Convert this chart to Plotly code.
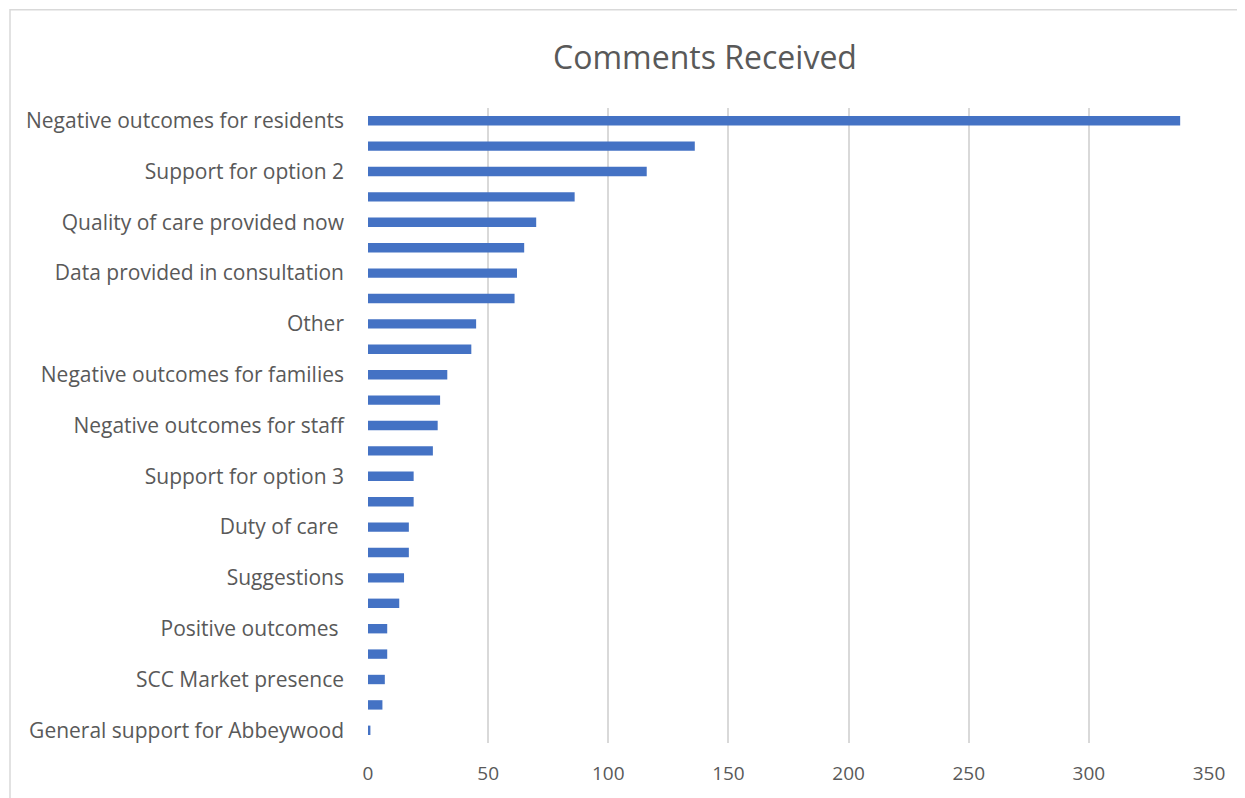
import plotly.graph_objects as go

labels = [
    "Negative outcomes for residents", None, "Support for option 2", None,
    "Quality of care provided now", None, "Data provided in consultation", None,
    "Other", None, "Negative outcomes for families", None,
    "Negative outcomes for staff", None, "Support for option 3", None,
    "Duty of care ", None, "Suggestions", None,
    "Positive outcomes ", None, "SCC Market presence", None,
    "General support for Abbeywood",
]
values = [338, 136, 116, 86, 70, 65, 62, 61, 45, 43, 33, 30, 29, 27,
          19, 19, 17, 17, 15, 13, 8, 8, 7, 6, 1]
x_ticks = [0, 50, 100, 150, 200, 250, 300, 350]

positions = list(range(len(values)))
tickvals = [p for p, l in zip(positions, labels) if l is not None]
ticktext = [l for l in labels if l is not None]

fig = go.Figure(go.Bar(
    x=values, y=positions, orientation="h",
    marker=dict(color="#4472C4", line=dict(width=0)),
    width=0.37,
))

# page body has an 8px margin; figure sized to fit the 1245x798 window
W, H = 1237, 790
L, R, T, B = 360, 36, 100, 50
pw, ph = W - L - R, H - T - B

fig.update_layout(
    width=W, height=H,
    margin=dict(l=L, r=R, t=T, b=B),
    paper_bgcolor="white", plot_bgcolor="white",
    font=dict(family="Open Sans", color="#595959"),
    title=dict(text="Comments Received", x=697 / W, xref="container", xanchor="center",
               y=1 - 50 / H, yref="container", yanchor="middle",
               font=dict(size=32, color="#595959", family="Open Sans")),
    showlegend=False,
    xaxis=dict(range=[0, 350], tickvals=x_ticks, showgrid=True,
               gridcolor="#d9d9d9", gridwidth=1.5, zeroline=False,
               showline=False, tickfont=dict(size=19, color="#595959"),
               ticks="", ticklabelstandoff=17, fixedrange=True),
    yaxis=dict(range=[len(values) - 0.5, -0.5], tickvals=tickvals, ticktext=ticktext,
               showgrid=False, zeroline=False, showline=False,
               tickfont=dict(size=21, color="#595959"),
               ticks="", ticklabelstandoff=23),
    shapes=[dict(type="rect", xref="paper", yref="paper",
                 x0=(2 - L) / pw, x1=(W + 20 - L) / pw,
                 y0=-(B + 20) / ph, y1=1 + (T - 1) / ph,
                 line=dict(color="#d9d9d9", width=1.5), layer="below")],
)
fig.write_html("out.html")
